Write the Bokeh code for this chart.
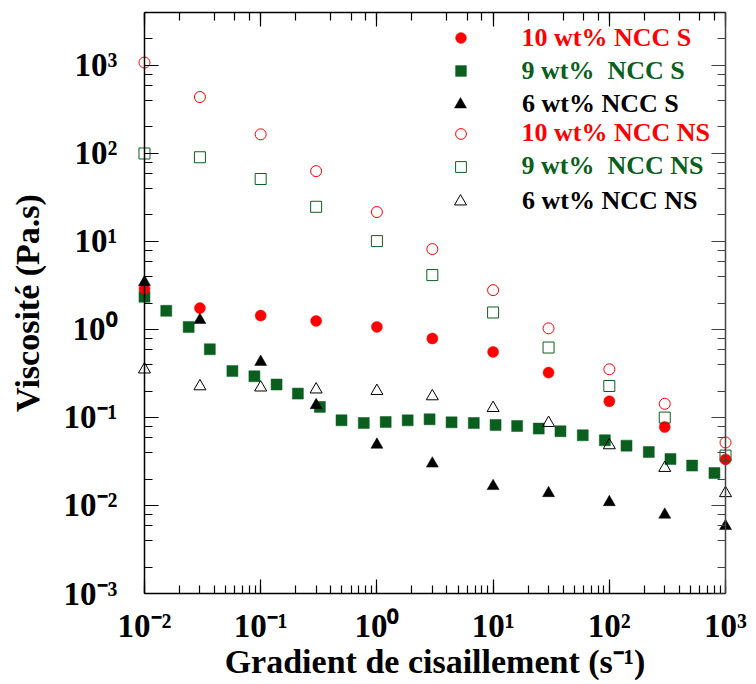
from bokeh.plotting import figure
from bokeh.models import LogAxis, LogTicker, CustomJSTickFormatter, Legend, LegendItem, Range1d
from bokeh.embed import file_html
from bokeh.resources import INLINE

# ---------------- data ----------------
shear_std = [0.01, 0.03, 0.1, 0.3, 1, 3, 10, 30, 100, 300, 1000]
visc_10_S = [2.9, 1.75, 1.44, 1.25, 1.07, 0.79, 0.556, 0.324, 0.153, 0.078, 0.0334]
visc_6_S = [3.45, 1.28, 0.428, 0.138, 0.049, 0.0299, 0.0166, 0.0138, 0.0109, 0.00785, 0.00583]
visc_10_NS = [1080, 438, 165, 63, 21.6, 8.2, 2.8, 1.03, 0.353, 0.143, 0.052]
visc_9_NS = [100, 90.6, 51.3, 24.8, 10.1, 4.15, 1.56, 0.624, 0.228, 0.0997, 0.0369]
visc_6_NS = [0.351, 0.226, 0.219, 0.208, 0.200, 0.174, 0.128, 0.0866, 0.0483, 0.0267, 0.0138]
shear_9_S = [0.01, 0.0154, 0.024, 0.0365, 0.0571, 0.0883, 0.137, 0.209, 0.323, 0.496, 0.771,
             1.19, 1.84, 2.84, 4.39, 6.82, 10.5, 16.1, 24.7, 38.0, 59.1, 91.5, 140.6, 218.6,
             336, 516, 803]
visc_9_S = [2.35, 1.63, 1.07, 0.596, 0.338, 0.294, 0.237, 0.187, 0.132, 0.093, 0.0866,
            0.0889, 0.0929, 0.0954, 0.0882, 0.0866, 0.0822, 0.0800, 0.0748, 0.0697, 0.0628,
            0.0551, 0.0479, 0.0405, 0.0337, 0.0284, 0.0234]

series_labels = ["10 wt% NCC S", "9 wt%  NCC S", "6 wt% NCC S",
                 "10 wt% NCC NS", "9 wt%  NCC NS", "6 wt% NCC NS"]
x_title = "Gradient de cisaillement (s\u207b\u00b9)"
y_title = "Viscosit\u00e9 (Pa.s)"

X_LO, X_HI = 0.01, 1000
Y_LO, Y_HI = 0.001, 4000

RED = "#ff0000"
GREEN = "#0a5f1e"
FONT = "Liberation Serif"

p = figure(x_axis_type="log", y_axis_type="log",
           x_range=Range1d(X_LO * 10 ** -0.06, X_HI * 10 ** 0.06),
           y_range=Range1d(Y_LO, Y_HI),
           frame_width=595, frame_height=581,
           min_border_left=137, min_border_right=24, min_border_top=12, min_border_bottom=86,
           output_backend="svg", toolbar_location=None)
p.grid.visible = False
p.outline_line_color = None
p.background_fill_color = "white"

sup_code = """
const m = {"-":"\u207b","0":"\u2070","1":"\u00b9","2":"\u00b2","3":"\u00b3","4":"\u2074",
           "5":"\u2075","6":"\u2076","7":"\u2077","8":"\u2078","9":"\u2079"};
const e = Math.round(Math.log10(tick));
return "10" + String(e).split("").map(c => m[c]).join("");
"""


def lines(ax, color="black"):
    ax.axis_line_color = color
    ax.axis_line_width = 1.5
    ax.major_tick_line_color = color
    ax.minor_tick_line_color = color
    ax.major_tick_line_width = 1.2
    ax.minor_tick_line_width = 1.2
    ax.major_tick_in = 14
    ax.major_tick_out = 0
    ax.minor_tick_in = 8
    ax.minor_tick_out = 0


def no_lines(ax):
    ax.axis_line_color = None
    ax.major_tick_line_color = None
    ax.minor_tick_line_color = None
    ax.major_tick_in = 0
    ax.major_tick_out = 0
    ax.minor_tick_in = 0
    ax.minor_tick_out = 0


def labels(ax):
    ax.formatter = CustomJSTickFormatter(code=sup_code)
    ax.major_label_text_font = FONT
    ax.major_label_text_font_style = "bold"
    ax.major_label_text_font_size = "33px"
    ax.major_label_text_color = "black"
    ax.axis_label_text_font = FONT
    ax.axis_label_text_font_style = "bold"
    ax.axis_label_text_font_size = "34px"
    ax.axis_label_text_color = "black"


def no_labels(ax):
    ax.formatter = CustomJSTickFormatter(code="return ''")
    ax.major_label_standoff = 0
    ax.major_label_text_font_size = "1px"


# bottom axis: line, ticks and labels
xb = p.below[0]
lines(xb)
labels(xb)
xb.bounds = (X_LO, X_HI)
xb.axis_label = x_title
xb.major_label_standoff = 14
xb.axis_label_standoff = -4

# left axis: labels and title only (frame edge sits a little left of 1e-2)
yl = p.left[0]
no_lines(yl)
labels(yl)
yl.axis_label = y_title
yl.major_label_standoff = 20
yl.axis_label_standoff = 15

# left axis line and ticks exactly at x = 1e-2
yl2 = LogAxis(ticker=LogTicker(), fixed_location=X_LO)
lines(yl2)
no_labels(yl2)
p.add_layout(yl2, "left")

xt = LogAxis(ticker=LogTicker(), bounds=(X_LO, X_HI))
lines(xt)
no_labels(xt)
p.add_layout(xt, "above")

yr = LogAxis(ticker=LogTicker(), fixed_location=X_HI)
lines(yr, color="#444444")
no_labels(yr)
p.add_layout(yr, "right")

# ---------------- marks ----------------
r_g = p.scatter(shear_9_S, visc_9_S, marker="square", size=11,
                fill_color=GREEN, line_color=GREEN, line_width=0.5)
r_r = p.scatter(shear_std, visc_10_S, marker="circle", size=11,
                fill_color=RED, line_color=RED, line_width=0.5)
r_k = p.scatter(shear_std, visc_6_S, marker="triangle", size=12,
                fill_color="black", line_color="black", line_width=0.5)
r_ro = p.scatter(shear_std, visc_10_NS, marker="circle", size=11,
                 fill_color=None, line_color=RED, line_width=1)
r_go = p.scatter(shear_std, visc_9_NS, marker="square", size=11,
                 fill_color=None, line_color=GREEN, line_width=1)
r_ko = p.scatter(shear_std, visc_6_NS, marker="triangle", size=12,
                 fill_color=None, line_color="black", line_width=1)

# ---------------- legend (one per row so each label keeps its own colour) ----------------
rows = [(r_r, RED, 27), (r_g, GREEN, 27), (r_k, "black", 30),
        (r_ro, RED, 27), (r_go, GREEN, 27), (r_ko, "black", 30)]
row_cy = [554, 521, 488.7, 458.3, 425.3, 392]
glyph_cx = 323
text_x = 385
for (rend, col, gw), lab, cy in zip(rows, series_labels, row_cy):
    lg = Legend(items=[LegendItem(label=lab, renderers=[rend])],
                location=(glyph_cx - gw / 2, cy - gw / 2),
                glyph_width=gw, glyph_height=gw, label_height=gw,
                label_standoff=int(text_x - glyph_cx - gw / 2),
                padding=0, margin=0, spacing=0,
                border_line_color=None, background_fill_alpha=0,
                label_text_font=FONT, label_text_font_style="bold",
                label_text_font_size="26px", label_text_color=col,
                label_text_baseline="middle")
    p.add_layout(lg)

open("out.html", "w").write(file_html(p, INLINE))
